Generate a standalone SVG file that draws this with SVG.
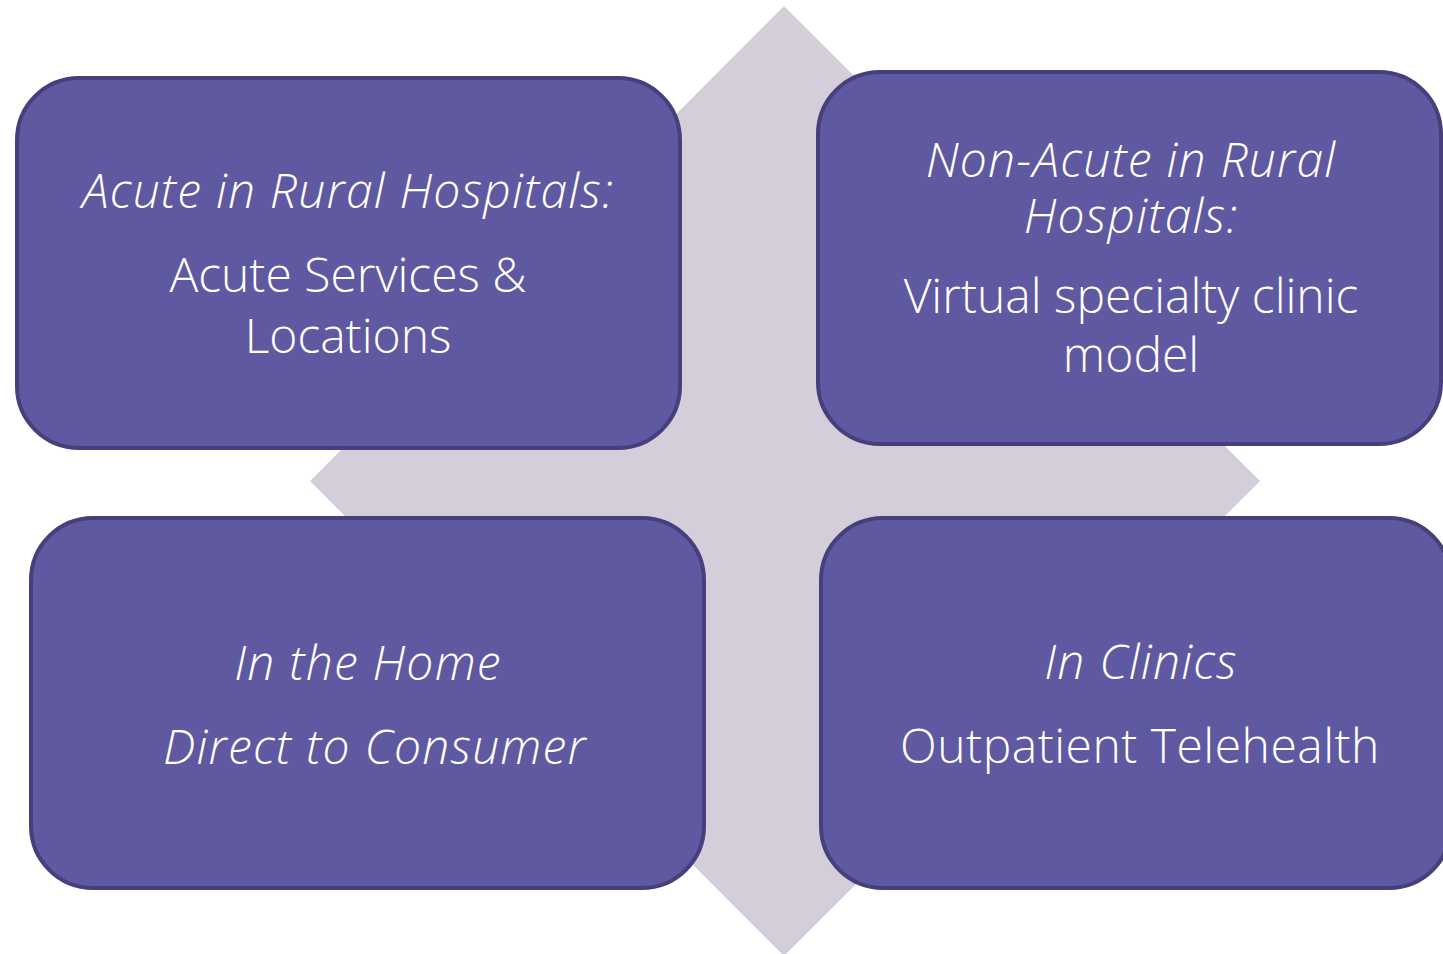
<svg xmlns="http://www.w3.org/2000/svg" width="1443" height="954" viewBox="0 0 1443 954">
  <style>
    .box { fill: #5f59a1; stroke: #463f7b; stroke-width: 4; }
    .lbl { fill: #ffffff; font-family: "Open Sans", "Noto Sans", "Liberation Sans", sans-serif; font-weight: 300; font-size: 48px; text-anchor: middle; }
    .it { font-style: italic; letter-spacing: 1.2px; }
  </style>
  <rect width="1443" height="954" fill="#ffffff"/>
  <!-- background diamond -->
  <polygon id="backdrop" points="784,6 1260,481 784,956 310,481" fill="#d3ced9"/>
  <g id="connectors"></g>
  <g id="acute-rural">
    <rect class="box" x="17" y="78" width="663" height="370" rx="62" ry="62"/>
    <text class="lbl it" x="348" y="208">Acute in Rural Hospitals:</text>
    <text class="lbl" x="348" y="292">Acute Services &amp;</text>
    <text class="lbl" x="348" y="353">Locations</text>
  </g>
  <g id="non-acute-rural">
    <rect class="box" x="818" y="72" width="623" height="372" rx="62" ry="62"/>
    <text class="lbl it" x="1131" y="177">Non-Acute in Rural</text>
    <text class="lbl it" x="1131" y="233">Hospitals:</text>
    <text class="lbl" x="1131" y="313">Virtual specialty clinic</text>
    <text class="lbl" x="1131" y="372">model</text>
  </g>
  <g id="in-home">
    <rect class="box" x="31" y="518" width="673" height="370" rx="62" ry="62"/>
    <text class="lbl it" x="368" y="680">In the Home</text>
    <text class="lbl it" x="375" y="764">Direct to Consumer</text>
  </g>
  <g id="in-clinics">
    <rect class="box" x="821" y="518" width="630" height="370" rx="62" ry="62"/>
    <text class="lbl it" x="1141" y="679">In Clinics</text>
    <text class="lbl" x="1140" y="763" letter-spacing="0.5">Outpatient Telehealth</text>
  </g>
</svg>
